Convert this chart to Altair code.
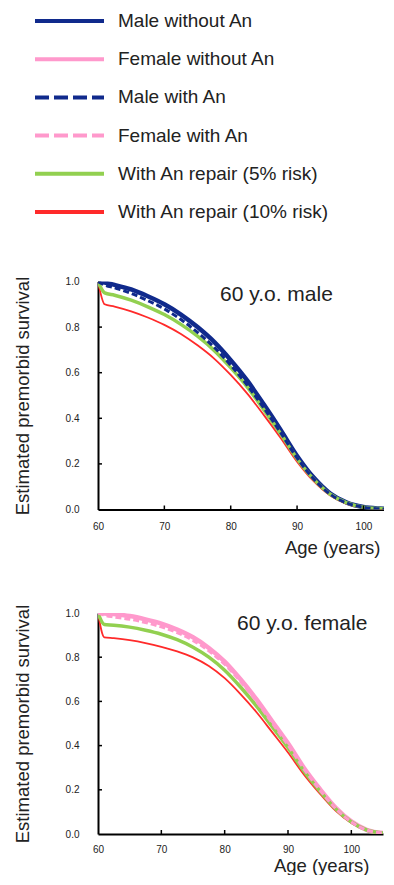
import altair as alt
import pandas as pd

# ---------------- data ----------------
legend_labels = ["Male without An", "Female without An", "Male with An",
                 "Female with An", "With An repair (5% risk)", "With An repair (10% risk)"]

ages = [60, 61, 62.5, 65, 67.5, 70, 72.5, 75, 77.5, 80, 82.5, 85, 87.5, 90,
        92.5, 95, 97.5, 100, 102.5, 105]

male_without = [1.0, 0.995, 0.985, 0.965, 0.935, 0.90, 0.855, 0.80, 0.735, 0.655,
                0.565, 0.46, 0.35, 0.235, 0.14, 0.07, 0.03, 0.011, 0.004, 0.001]
male_with = [1.0, 0.985, 0.972, 0.948, 0.916, 0.88, 0.833, 0.777, 0.712, 0.633,
             0.545, 0.445, 0.338, 0.226, 0.134, 0.067, 0.028, 0.010, 0.003, 0.001]
male_rep5 = [1.0, 0.95, 0.94, 0.918, 0.889, 0.855, 0.812, 0.76, 0.698, 0.622,
             0.537, 0.437, 0.333, 0.223, 0.133, 0.067, 0.029, 0.010, 0.004, 0.001]
male_rep10 = [1.0, 0.90, 0.89, 0.869, 0.842, 0.81, 0.77, 0.72, 0.662, 0.59,
              0.508, 0.414, 0.315, 0.21, 0.124, 0.061, 0.025, 0.007, 0.002, 0.0]

female_without = [1.0, 0.998, 0.995, 0.986, 0.971, 0.952, 0.925, 0.89, 0.842, 0.78,
                  0.70, 0.61, 0.51, 0.41, 0.30, 0.205, 0.12, 0.057, 0.018, 0.004]
female_with = [1.0, 0.99, 0.982, 0.972, 0.957, 0.937, 0.911, 0.876, 0.829, 0.768,
               0.69, 0.601, 0.502, 0.402, 0.295, 0.20, 0.116, 0.054, 0.017, 0.004]
female_rep5 = [1.0, 0.948, 0.945, 0.936, 0.922, 0.904, 0.879, 0.845, 0.80, 0.741,
               0.665, 0.58, 0.485, 0.39, 0.285, 0.195, 0.114, 0.054, 0.017, 0.004]
female_rep10 = [1.0, 0.89, 0.886, 0.877, 0.864, 0.847, 0.826, 0.799, 0.760, 0.705,
                0.633, 0.552, 0.461, 0.369, 0.270, 0.184, 0.106, 0.050, 0.016, 0.004]

y_ticks = [0.0, 0.2, 0.4, 0.6, 0.8, 1.0]
x_ticks = [60, 70, 80, 90, 100]
inner_y_ticks = [0.2, 0.4, 0.6, 0.8]
inner_x_ticks = [70, 80, 90, 100]

# ---------------- styles ----------------
NAVY = "#102a8c"
PINK = "#ff99cc"
GREEN = "#92d050"
RED = "#ff2a2a"
FONT = "Liberation Sans"
TXT = "#222222"

legend_colors = [NAVY, PINK, NAVY, PINK, GREEN, RED]
legend_dashes = [[1, 0], [1, 0], [14, 5], [14, 5], [1, 0], [1, 0]]
legend_widths = [4, 4, 4, 4, 1.5, 2]

# ---------------- legend panel ----------------
leg_df = pd.DataFrame({"label": legend_labels})
leg_y = alt.Y("label:N", sort=legend_labels,
              scale=alt.Scale(type="point", domain=legend_labels, range=[13, 204], padding=0),
              axis=None)
leg_lines = alt.Chart(leg_df).mark_rule().encode(
    y=leg_y,
    x=alt.value(-63), x2=alt.value(6),
    color=alt.Color("label:N", scale=alt.Scale(domain=legend_labels, range=legend_colors), legend=None),
    strokeDash=alt.StrokeDash("label:N", scale=alt.Scale(domain=legend_labels, range=legend_dashes), legend=None),
    strokeWidth=alt.StrokeWidth("label:N", scale=alt.Scale(domain=legend_labels, range=legend_widths), legend=None),
)
leg_text = alt.Chart(leg_df).mark_text(align="left", baseline="middle", fontSize=19,
                                       font=FONT, color=TXT).encode(
    y=leg_y, x=alt.value(20), text="label:N")
legend_panel = alt.layer(leg_lines, leg_text).properties(width=250, height=221)


# ---------------- survival panels ----------------
def panel(series, xmax, width, height, label, label_x, label_y, title_pad, xt_x, xt_y, xlab_pad):
    xs = alt.Scale(domain=[60, xmax], nice=False, zero=False)
    ys = alt.Scale(domain=[0, 1], nice=False, zero=False)
    main_x = alt.Axis(values=x_ticks, format="d", labelFontSize=10, labelFont=FONT,
                      labelColor=TXT, labelPadding=xlab_pad, labelFlush=False,
                      ticks=False, tickSize=0, domainColor="black", domainWidth=2,
                      grid=False, title="Age (years)", titleFontSize=18.5, titleFont=FONT,
                      titleFontWeight="normal", titleColor=TXT,
                      titleX=xt_x, titleY=xt_y, titleAlign="right", titleBaseline="top")
    main_y = alt.Axis(values=y_ticks, format=".1f", labelFontSize=10, labelFont=FONT,
                      labelColor=TXT, labelPadding=19, labelFlush=False,
                      ticks=False, tickSize=0, domainColor="black", domainWidth=2,
                      grid=False, title="Estimated premorbid survival", titleFontSize=18.5,
                      titleFont=FONT, titleFontWeight="normal", titleColor=TXT,
                      titlePadding=title_pad)
    X = lambda: alt.X("age:Q", scale=xs, axis=main_x)
    Y = lambda: alt.Y("survival:Q", scale=ys, axis=main_y)
    layers = []
    for vals, color, sw, dash in series:
        df = pd.DataFrame({"age": ages, "survival": vals})
        mk = dict(color=color, strokeWidth=sw, interpolate="monotone", clip=True)
        if dash:
            mk["strokeDash"] = dash
        layers.append(alt.Chart(df).mark_line(**mk).encode(x=X(), y=Y()))
    # inward tick marks, placed through the shared scales
    layers.append(alt.Chart(pd.DataFrame({"age": inner_x_ticks})).mark_rule(
        color="black", strokeWidth=1.5).encode(
        x=X(), y=alt.value(height), y2=alt.value(height - 4)))
    layers.append(alt.Chart(pd.DataFrame({"survival": inner_y_ticks})).mark_rule(
        color="black", strokeWidth=1.5).encode(
        y=Y(), x=alt.value(0), x2=alt.value(4)))
    layers.append(alt.Chart(pd.DataFrame({"t": [label]})).mark_text(
        align="left", baseline="middle", fontSize=21, font=FONT, color=TXT).encode(
        x=alt.value(label_x), y=alt.value(label_y), text="t:N"))
    return alt.layer(*layers).properties(width=width, height=height)


male = panel([(male_without, NAVY, 4.5, None),
              (male_rep10, RED, 1.8, None),
              (male_rep5, GREEN, 3.5, None),
              (male_with, NAVY, 3, [6, 3])],
             103.1, 286, 228, "60 y.o. male", 122, 13, 32.7, 282, 29, 12)

female = panel([(female_without, PINK, 4.5, None),
                (female_rep10, RED, 1.8, None),
                (female_rep5, GREEN, 3.5, None),
                (female_with, PINK, 3, [6, 3])],
               105, 285, 221, "60 y.o. female", 139, 11, 32.7, 271, 22, 10)

chart = alt.vconcat(legend_panel, male, female, spacing=46.5).properties(
    padding={"left": 5, "top": 0, "right": 0, "bottom": 0}
).configure_view(stroke=None)

chart.save("out.html", embed_options={"renderer": "svg", "actions": False})
